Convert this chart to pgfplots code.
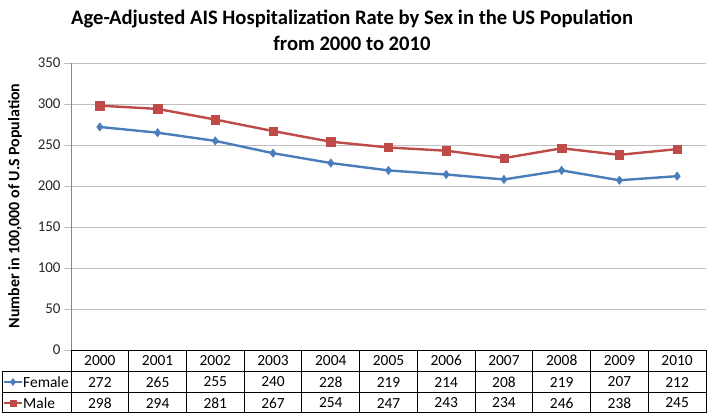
\documentclass[border=0pt]{standalone}
\usepackage{fontspec}
\setmainfont{Carlito}
\usepackage{pgfplots}
\pgfplotsset{compat=1.18}
\definecolor{femaleblue}{RGB}{74,126,187}
\definecolor{malered}{RGB}{190,75,72}
\definecolor{gridgray}{RGB}{191,191,191}
\definecolor{axisgray}{RGB}{134,134,134}
\begin{document}
\begin{tikzpicture}[x=1bp,y=1bp]
\useasboundingbox (0,0) rectangle (709,413);
% title
\node[font=\fontsize{20.7}{26}\selectfont\bfseries,align=center] at (352,383)
  {Age-Adjusted AIS Hospitalization Rate by Sex in the US Population\\from 2000 to 2010};
% y label
\node[font=\fontsize{16}{16}\selectfont\bfseries,rotate=90] at (15,207)
  {Number in 100,000 of U.S Population};
\begin{axis}[
  at={(71bp,63bp)}, anchor=south west,
  scale only axis, width=635bp, height=287bp,
  xmin=-0.5, xmax=10.5, ymin=0, ymax=350,
  ytick={0,50,...,350}, xtick=\empty,
  ymajorgrids, grid style={gridgray,line width=0.9bp},
  axis x line=none, axis y line*=left,
  y axis line style={-,axisgray,line width=0.9bp},
  tick align=outside, major tick length=7bp,
  tick style={gridgray,line width=0.9bp},
  yticklabel style={font=\fontsize{15}{15}\selectfont,text=black!85},
  /pgf/number format/assume math mode=true,
  clip=false
]
\addplot[femaleblue,line width=2.4bp,mark=diamond*,mark size=4.2bp,
  mark options={fill=femaleblue,line width=0.5bp}] coordinates {
  (0,272) (1,265) (2,255) (3,240) (4,228) (5,219)
  (6,214) (7,208) (8,219) (9,207) (10,212)};
\addplot[malered,line width=2.4bp,mark=square*,mark size=4.2bp,
  mark options={fill=malered,line width=0.5bp}] coordinates {
  (0,298) (1,294) (2,281) (3,267) (4,254) (5,247)
  (6,243) (7,234) (8,246) (9,238) (10,245)};
\end{axis}
% data table
\begin{scope}[line width=0.9bp,black]
\draw (71,63) -- (706,63);
\draw (2,41.5) -- (706,41.5);
\draw (2,20.5) -- (706,20.5);
\draw (2,0.5) -- (706,0.5);
\draw (2,0.5) -- (2,41.5);
\foreach \k in {0,...,11} \draw ({71+57.727*\k},0.5) -- ({71+57.727*\k},63);
\end{scope}
\begin{scope}[font=\fontsize{15.5}{15.5}\selectfont]
\foreach \yr [count=\i from 0] in {2000,2001,2002,2003,2004,2005,2006,2007,2008,2009,2010}
  \node at ({71+57.727*(\i+0.5)},52.5) {\yr};
\foreach \v [count=\i from 0] in {272,265,255,240,228,219,214,208,219,207,212}
  \node at ({71+57.727*(\i+0.5)},31) {\v};
\foreach \v [count=\i from 0] in {298,294,281,267,254,247,243,234,246,238,245}
  \node at ({71+57.727*(\i+0.5)},10) {\v};
\draw[femaleblue,line width=2bp] (4,31) -- (22,31);
\fill[femaleblue] (13,35) -- (16,31) -- (13,27) -- (10,31) -- cycle;
\node[anchor=west,inner sep=0pt] at (23,31) {Female};
\draw[malered,line width=2bp] (4,10) -- (22,10);
\fill[malered] (9.5,6.5) rectangle (16.5,13.5);
\node[anchor=west,inner sep=0pt] at (23,10) {Male};
\end{scope}
\end{tikzpicture}
\end{document}
